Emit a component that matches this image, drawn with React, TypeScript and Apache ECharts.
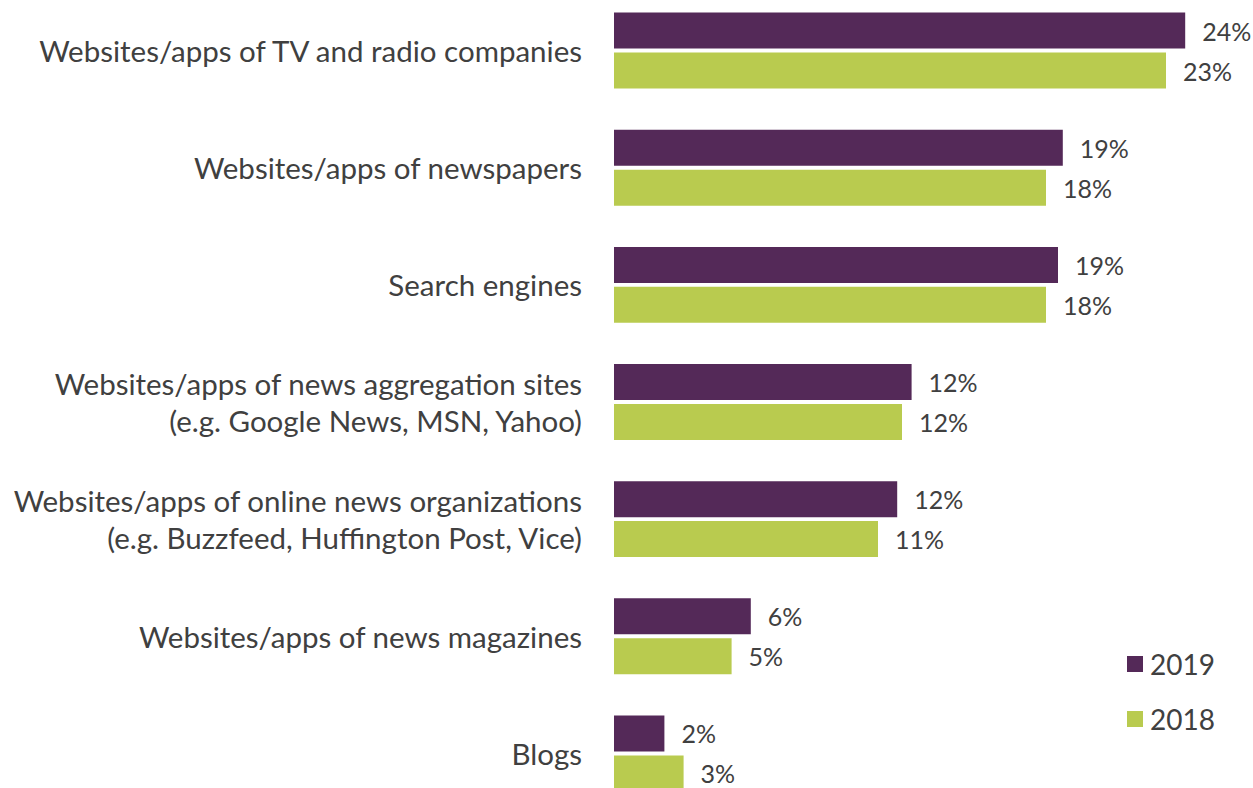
import React, { useEffect, useRef } from "react";
import * as echarts from "echarts";

const categories = [
  "Websites/apps of TV and radio companies",
  "Websites/apps of newspapers",
  "Search engines",
  "Websites/apps of news aggregation sites\n(e.g. Google News, MSN, Yahoo)",
  "Websites/apps of online news organizations\n(e.g. Buzzfeed, Huffington Post, Vice)",
  "Websites/apps of news magazines",
  "Blogs",
];
const values2019 = [23.8, 18.7, 18.5, 12.4, 11.8, 5.7, 2.1];
const values2018 = [23.0, 18.0, 18.0, 12.0, 11.0, 4.9, 2.9];
const seriesNames = ["2019", "2018"];

const FONT = "Lato";
const PURPLE = "#542958";
const GREEN = "#b9cb4f";
const SHIFT = 20;

export default function App() {
  const ref = useRef<HTMLDivElement>(null);
  useEffect(() => {
    if (!ref.current) return;
    const chart = echarts.init(ref.current, null, { renderer: "svg" });
    const label = {
      show: true,
      position: "right",
      distance: 17,
      color: "#404040",
      fontFamily: FONT,
      fontSize: 25,
      formatter: (p: any) => Math.round(p.value) + "%",
    };
    chart.setOption({
      animation: false,
      backgroundColor: "#ffffff",
      legend: {
        orient: "vertical",
        left: 1127,
        top: 650 + SHIFT,
        padding: 0,
        itemWidth: 16,
        itemHeight: 16,
        itemGap: 27,
        icon: "rect",
        textStyle: { fontFamily: FONT, fontSize: 28, color: "#404040", padding: [0, 0, 0, 2] },
        data: seriesNames,
      },
      grid: { left: 614, top: -8 + SHIFT, width: 600, height: 820, containLabel: false },
      xAxis: {
        type: "value",
        min: 0,
        max: 25,
        show: false,
      },
      yAxis: {
        type: "category",
        data: categories,
        inverse: true,
        axisLine: { show: false },
        axisTick: { show: false },
        axisLabel: {
          margin: 32,
          fontFamily: FONT,
          fontSize: 29.5,
          lineHeight: 37,
          color: "#404040",
          align: "right",
        },
      },
      series: [
        {
          name: seriesNames[0],
          type: "bar",
          data: values2019,
          itemStyle: { color: PURPLE },
          barWidth: 36,
          barGap: "11%",
          label,
        },
        {
          name: seriesNames[1],
          type: "bar",
          data: values2018,
          itemStyle: { color: GREEN },
          barWidth: 36,
          label,
        },
      ],
    });
    return () => chart.dispose();
  }, []);
  return (
    <div
      ref={ref}
      style={{ position: "absolute", left: 0, top: -SHIFT, width: 1253, height: 860 }}
    />
  );
}
